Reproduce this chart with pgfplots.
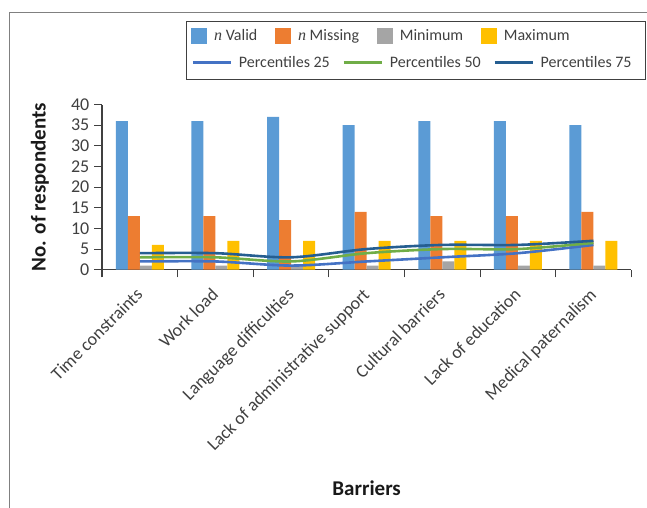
\documentclass[border=0pt]{standalone}
\usepackage{pgfplots}
\usepackage{pgfplotstable}
\pgfplotsset{compat=1.18}
\usepackage{fontspec}
\setmainfont{Carlito}
\newfontfamily\serifn{Liberation Serif}

\definecolor{cValid}{HTML}{5B9BD5}
\definecolor{cMissing}{HTML}{ED7D31}
\definecolor{cMin}{HTML}{A5A5A5}
\definecolor{cMax}{HTML}{FFC000}
\definecolor{cP25}{HTML}{4472C4}
\definecolor{cP50}{HTML}{70AD47}
\definecolor{cP75}{HTML}{255E91}
\definecolor{cText}{HTML}{404040}

\newcommand\tickfont{\fontsize{18bp}{22bp}\selectfont}
\newcommand\legfont{\fontsize{16bp}{19bp}\selectfont}
\newcommand\titlefont{\fontsize{21bp}{25bp}\selectfont\bfseries}

% Barriers to shared decision-making: counts and percentiles per barrier
\pgfplotstableread{
idx valid missing minimum maximum p25 p50 p75
0   36    13      1       6       2   3   4
1   36    13      1       7       2   3   4
2   37    12      1       7       1   2   3
3   35    14      1       7       2   4   5
4   36    13      2       7       3   5   6
5   36    13      1       7       4   5   6
6   35    14      1       7       6   6.5 7
}\barriers

\pgfplotsset{
  panel/.style={
    at={(102bp,-269.7bp)}, anchor=south west,
    scale only axis, width=529.3bp, height=165.2bp,
    xmin=-0.5, xmax=6.5, ymin=0, ymax=40,
  },
}

\begin{document}
\begin{tikzpicture}
\useasboundingbox (0,0) rectangle (647bp,-508bp);
% outer frame of the figure
\draw[black!50, line width=0.9bp] (9.4bp,-520bp) -- (9.4bp,-12.3bp) -- (660bp,-12.3bp);

\begin{axis}[
  panel,
  axis lines*=left,
  axis line style={black!75, line width=1.1bp},
  every tick/.style={black!75, line width=1.1bp},
  tick align=outside,
  major tick length=7.7bp,
  ytick={0,5,...,40},
  yticklabel style={font=\tickfont, text=cText, xshift=-1.5bp},
  /pgf/number format/assume math mode=true,
  xtick={-0.5,0.5,...,6.5},
  xticklabels={},
  extra x ticks={0,1,2,3,4,5,6},
  extra x tick labels={Time constraints,Work load,Language difficulties,Lack of administrative support,Cultural barriers,Lack of education,Medical paternalism},
  extra x tick style={major tick length=0pt},
  xticklabel style={font=\tickfont, text=cText, xshift=4bp, yshift=-26bp, rotate=45, anchor=base east, inner sep=0pt},
  ylabel={No. of respondents},
  ylabel style={font=\titlefont, text=black!90, at={(axis description cs:-0.1175,0.5)}, anchor=center},
  xlabel={Barriers},
  xlabel style={font=\titlefont, text=black!90, at={(axis description cs:0.5,-1.3232)}, anchor=center},
  legend columns=4,
  legend image code/.code={\fill[#1] (0bp,-8bp) rectangle (16bp,8bp);},
  legend style={at={(axis description cs:0.169,1.4147)}, anchor=west,
    draw=none, fill=none, inner sep=0pt, outer sep=0pt,
    font=\legfont, text=cText, nodes={inner sep=0pt},
    /tikz/every odd column/.append style={column sep=6.7bp},
    /tikz/every even column/.append style={column sep=18bp}},
  clip=false,
]
\addplot[ybar, bar width=12bp, bar shift=-18bp, fill=cValid, draw=none] table[x=idx, y=valid] {\barriers};
\addlegendentry{{\serifn\itshape n} Valid}
\addplot[ybar, bar width=12bp, bar shift=-6bp, fill=cMissing, draw=none] table[x=idx, y=missing] {\barriers};
\addlegendentry{{\serifn\itshape n} Missing}
\addplot[ybar, bar width=12bp, bar shift=6bp, fill=cMin, draw=none] table[x=idx, y=minimum] {\barriers};
\addlegendentry{Minimum}
\addplot[ybar, bar width=12bp, bar shift=18bp, fill=cMax, draw=none] table[x=idx, y=maximum] {\barriers};
\addlegendentry{Maximum}
\end{axis}

\begin{axis}[
  panel,
  hide axis,
  clip=false,
  legend columns=3,
  legend image code/.code={\draw[#1] (0bp,0bp) -- (38.4bp,0bp);},
  legend style={at={(axis description cs:0.169,1.2530)}, anchor=west,
    draw=none, fill=none, inner sep=0pt, outer sep=0pt,
    font=\legfont, text=cText, nodes={inner sep=0pt},
    /tikz/every odd column/.append style={column sep=6.5bp},
    /tikz/every even column/.append style={column sep=12.5bp}},
]
\addplot[cP25, line width=2.6bp, smooth, tension=0.5] table[x=idx, y=p25] {\barriers};
\addlegendentry{Percentiles 25}
\addplot[cP50, line width=2.6bp, smooth, tension=0.5] table[x=idx, y=p50] {\barriers};
\addlegendentry{Percentiles 50}
\addplot[cP75, line width=2.6bp, smooth, tension=0.5] table[x=idx, y=p75] {\barriers};
\addlegendentry{Percentiles 75}
\end{axis}

% legend frame around both legend rows
\draw[black!75, line width=1bp] (186bp,-21.7bp) rectangle (645bp,-79.3bp);
\end{tikzpicture}
\end{document}
